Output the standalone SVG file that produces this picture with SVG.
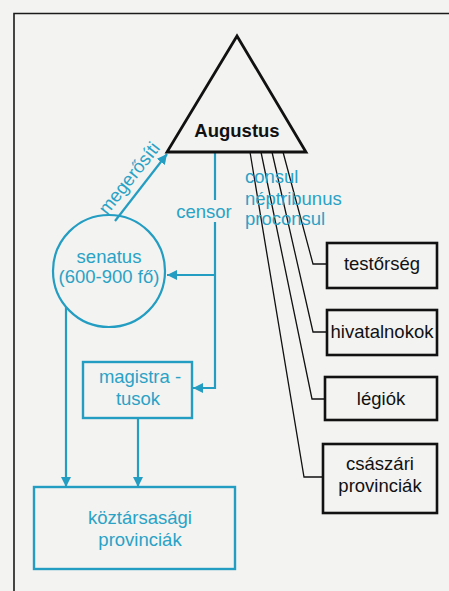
<svg xmlns="http://www.w3.org/2000/svg" width="449" height="591" viewBox="0 0 449 591">
<defs>
<style>
.bg{fill:#f3f3f1}
.frame{fill:none;stroke:#1a1a1a;stroke-width:1.6}
.bl{fill:none;stroke:#239dc2;stroke-width:2.2}
.bbox{fill:none;stroke:#239dc2;stroke-width:2.4}
.kbox{fill:#f3f3f1;stroke:#111;stroke-width:2.6}
.kl{fill:none;stroke:#111;stroke-width:1.3}
.bt{font-family:"Liberation Sans",Arial,sans-serif;font-size:18.5px;fill:#2aa2c6}
.kt{font-family:"Liberation Sans",Arial,sans-serif;font-size:18.5px;fill:#111}
.c{text-anchor:middle}
</style>
<marker id="ah" viewBox="0 0 10 10" refX="10" refY="5" markerWidth="10" markerHeight="10" markerUnits="userSpaceOnUse" orient="auto">
<path d="M0,0 L10,5 L0,10 Z" fill="#239dc2"/>
</marker>
</defs>
<rect class="bg" x="0" y="0" width="449" height="591"/>
<path class="frame" d="M14,591 V13.5 H449"/>

<g id="connectors">
<!-- black lines from Augustus -->
<path class="kl" d="M283,152 L313,264 H327"/>
<path class="kl" d="M272,152 L313,332 H327"/>
<path class="kl" d="M261,152 L312,399 H325"/>
<path class="kl" d="M250,152 L304,477 H323"/>
<!-- blue -->
<path class="bl" d="M115,221 L167,154" marker-end="url(#ah)"/>
<path class="bl" d="M215,152 V200"/>
<path class="bl" d="M215,222 V388 H193" marker-end="url(#ah)"/>
<path class="bl" d="M215,275 H167" marker-end="url(#ah)"/>
<path class="bl" d="M66,307 V487" marker-end="url(#ah)"/>
<path class="bl" d="M138,418 V487" marker-end="url(#ah)"/>
</g>

<g id="augustus">
<path d="M237,36 L306,152 H167 Z" fill="#f3f3f1" stroke="#111" stroke-width="2.8" stroke-linejoin="miter"/>
<text class="kt c" x="237" y="137" font-weight="bold" font-size="19">Augustus</text>
</g>

<g id="labels">
<text class="bt" transform="translate(134,182) rotate(-51.6)" text-anchor="middle">megerősíti</text>
<text class="bt c" x="204" y="218">censor</text>
<text class="bt" x="245" y="183">consul</text>
<text class="bt" x="245" y="205">néptribunus</text>
<text class="bt" x="245" y="225">proconsul</text>
</g>

<g id="senatus">
<circle class="bl" cx="109" cy="271" r="56"/>
<text class="bt c" x="109" y="263">senatus</text>
<text class="bt c" x="109" y="283">(600-900 fő)</text>
</g>

<g id="magistratusok">
<rect class="bbox" x="83" y="362" width="109" height="56"/>
<text class="bt c" x="140" y="383">magistra -</text>
<text class="bt c" x="138" y="405">tusok</text>
</g>

<g id="koztarsasagi">
<rect class="bbox" x="34" y="487" width="201" height="82"/>
<text class="bt c" x="140" y="524">köztársasági</text>
<text class="bt c" x="140" y="546">provinciák</text>
</g>

<g id="testorseg">
<rect class="kbox" x="327" y="243" width="110" height="45"/>
<text class="kt c" x="382" y="270">testőrség</text>
</g>
<g id="hivatalnokok">
<rect class="kbox" x="327" y="310" width="110" height="45"/>
<text class="kt c" x="382" y="338">hivatalnokok</text>
</g>
<g id="legiok">
<rect class="kbox" x="325" y="377" width="112" height="43"/>
<text class="kt c" x="381" y="405">légiók</text>
</g>
<g id="csaszari">
<rect class="kbox" x="323" y="444" width="114" height="69"/>
<text class="kt c" x="380" y="470">császári</text>
<text class="kt c" x="380" y="492">provinciák</text>
</g>
</svg>
